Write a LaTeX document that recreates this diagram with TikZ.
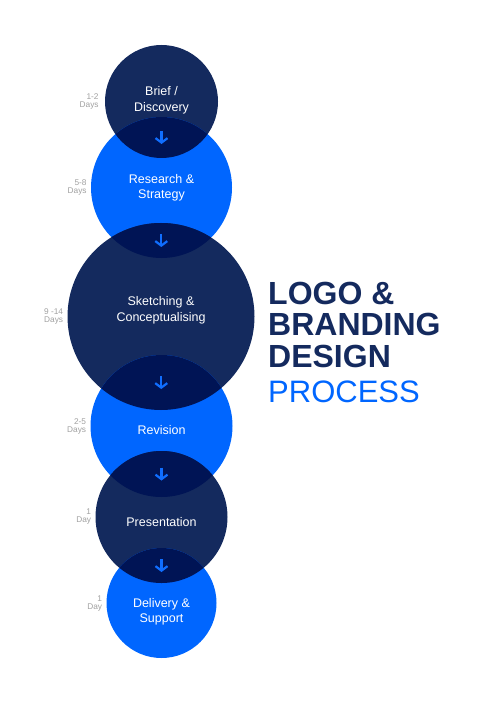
\documentclass[tikz,border=0pt]{standalone}
\usepackage{fontspec}
\setmainfont{Liberation Sans}
\usetikzlibrary{positioning, calc, arrows.meta}
\definecolor{navyblue}{RGB}{20,42,94}
\definecolor{brightblue}{RGB}{0,102,255}
\definecolor{lensnavy}{RGB}{0,20,85}
\definecolor{arrowblue}{RGB}{16,110,255}
\definecolor{daysgray}{RGB}{160,160,160}

\begin{document}
\begin{tikzpicture}[x=1pt, y=-1pt,
    stage/.style={circle, inner sep=0pt},
    darkstage/.style={stage, fill=navyblue},
    lightstage/.style={stage, fill=brightblue},
    stagetext/.style={text=white, align=center, inner sep=0pt, font=\fontsize{12.5}{15.5}\selectfont},
    stagearrow/.style={draw=arrowblue, line width=2.2pt, -{Straight Barb[length=4.5pt, width=12pt]}},
    dayslabel/.style={text=daysgray, align=right, inner sep=0pt, font=\fontsize{8.3}{8}\selectfont},
    titleline/.style={anchor=base west, inner sep=0pt, font=\fontsize{32}{32}\selectfont\bfseries, text=navyblue}]
    \useasboundingbox (0,0) rectangle (487,708);

    % Process circles
    \node[darkstage, minimum size=113pt] (brief) at (161.5,101.5) {};
    \node[lightstage, minimum size=141pt] (research) at (161.5,187.5) {};
    \node[darkstage, minimum size=187pt] (sketch) at (161,316.5) {};
    \node[lightstage, minimum size=142pt] (revision) at (161.5,426) {};
    \node[darkstage, minimum size=132pt] (present) at (161.5,517) {};
    \node[lightstage, minimum size=110pt] (deliver) at (161.5,603) {};

    % Overlaps
    \foreach \a/\ra/\b/\rb in {brief/56.5/research/70.5, research/70.5/sketch/93.5, sketch/93.5/revision/71, revision/71/present/66, present/66/deliver/55}{
        \begin{scope}
            \clip (\a) circle (\ra pt);
            \fill[lensnavy] (\b) circle (\rb pt);
        \end{scope}
        \coordinate (mid) at ($(\a.south)!0.5!(\b.north)$);
        \draw[stagearrow] ([yshift=6.5pt]mid) -- ([yshift=-6.5pt]mid);
    }

    % Stage names
    \node[stagetext] (brieftext) at ($(brief)+(0,-1)$) {Brief /\\Discovery};
    \node[stagetext] (researchtext) at ($(research)+(0,0.5)$) {Research \&\\Strategy};
    \node[stagetext] (sketchtext) at ($(sketch)+(0,-6)$) {Sketching \&\\Conceptualising};
    \node[stagetext] (revisiontext) at ($(revision)+(0,4.5)$) {Revision};
    \node[stagetext] (presenttext) at ($(present)+(0,5)$) {Presentation};
    \node[stagetext] (delivertext) at ($(deliver)+(0,9)$) {Delivery \&\\Support};

    % Durations
    \node[dayslabel, left=6pt of brief] {1-2\\Days};
    \node[dayslabel, left=4pt of research] {5-8\\Days};
    \node[dayslabel, left=4pt of sketch] {9 -14\\Days};
    \node[dayslabel, left=4pt of revision] {2-5\\Days};
    \node[dayslabel, left=4pt of present] {1\\Day};
    \node[dayslabel, left=4pt of deliver] {1\\Day};

    % Title
    \node[titleline] (logo) at (268,304) {LOGO \&};
    \node[titleline] (brand) at (268,335) {BRANDING};
    \node[titleline] (design) at (268,367) {DESIGN};
    \node[titleline, font=\fontsize{31}{31}\selectfont, text=brightblue] (process) at (268,402) {PROCESS};
\end{tikzpicture}
\end{document}
